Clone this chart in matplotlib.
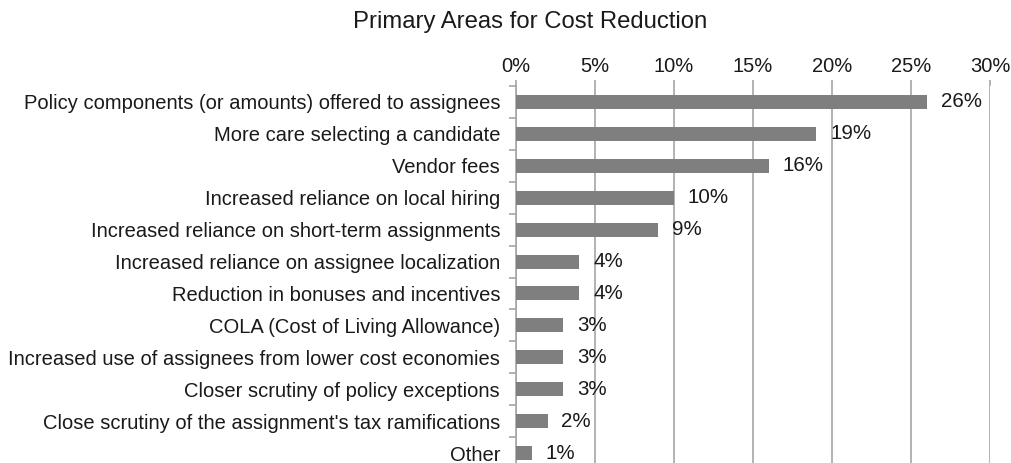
import matplotlib
matplotlib.use("Agg")
import matplotlib.pyplot as plt

categories = [
    "Policy components (or amounts) offered to assignees",
    "More care selecting a candidate",
    "Vendor fees",
    "Increased reliance on local hiring",
    "Increased reliance on short-term assignments",
    "Increased reliance on assignee localization",
    "Reduction in bonuses and incentives",
    "COLA (Cost of Living Allowance)",
    "Increased use of assignees from lower cost economies",
    "Closer scrutiny of policy exceptions",
    "Close scrutiny of the assignment's tax ramifications",
    "Other",
]
values = [26, 19, 16, 10, 9, 4, 4, 3, 3, 3, 2, 1]
xticks = [0, 5, 10, 15, 20, 25, 30]
xtick_labels = ["0%", "5%", "10%", "15%", "20%", "25%", "30%"]
title = "Primary Areas for Cost Reduction"

plt.rcParams['font.family'] = ['Liberation Sans', 'DejaVu Sans']

fig = plt.figure(figsize=(10.11, 4.63), dpi=100)
ax = fig.add_axes([516/1011, 1 - 469/463, (990 - 516)/1011, (469 - 86)/463])

ypos = list(range(len(categories)))
ax.barh(ypos, values, height=0.44, color="#7f7f7f", zorder=3)
ax.set_ylim(len(categories) - 0.5, -0.5)
ax.set_xlim(0, 30)

for y, v in zip(ypos, values):
    ax.annotate(f"{v}%", (v, y), xytext=(10, 0), textcoords="offset points",
                va="center", ha="left", fontsize=14.8, color="#1a1a1a")

ax.xaxis.tick_top()
ax.set_xticks(xticks)
ax.set_xticklabels(xtick_labels, fontsize=14.5, color="#1a1a1a")
ax.tick_params(axis="x", length=4, color="#a6a6a6", width=1.2, pad=3)

ax.set_yticks(ypos)
ax.set_yticklabels(categories, fontsize=14.5, color="#1a1a1a")
ax.tick_params(axis="y", length=0, pad=11.5)
ax.set_yticks([i + 0.5 for i in range(-1, len(categories))], minor=True)
ax.tick_params(axis="y", which="minor", length=5, color="#a6a6a6", width=1.2)

ax.grid(axis="x", color="#a6a6a6", linewidth=1.2, zorder=0)
for s in ["top", "right", "bottom"]:
    ax.spines[s].set_visible(False)
ax.spines["left"].set_color("#a6a6a6")
ax.spines["left"].set_linewidth(1.2)

fig.text(530/1011, 1 - 22/463, title, ha="center", va="center", fontsize=17.2, color="#1a1a1a")

fig.savefig("out.png", dpi=100)
